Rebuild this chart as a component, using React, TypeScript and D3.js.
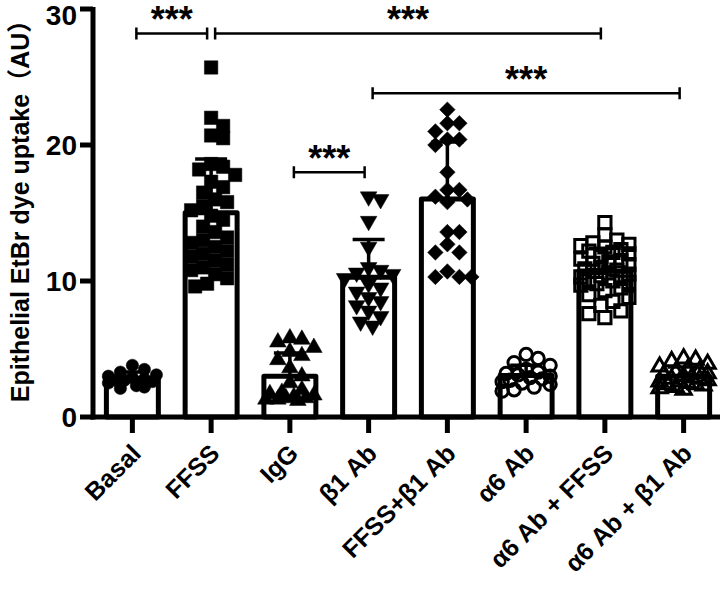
import React, { useRef, useEffect } from "react";
import * as d3 from "d3";

// groups along the x axis
const categories = [
  "Basal",
  "FFSS",
  "IgG",
  "β1 Ab",
  "FFSS+β1 Ab",
  "α6 Ab",
  "α6 Ab + FFSS",
  "α6 Ab + β1 Ab",
];

// marker used for each group (GraphPad style)
const markers = [
  "circle", "square", "triangle", "triangleDown",
  "diamond", "openCircle", "openSquare", "openTriangle",
];

const basal = [3.8, 3.5, 3.3, 3.1, 3.0, 2.9, 2.7, 2.6, 2.5, 2.3, 2.1, 2.2, 2.8, 2.7];
const ffss = [
  25.7, 22.0, 21.4, 20.7, 20.5, 18.6, 18.4, 18.2, 17.8, 17.3, 16.9, 16.5, 16.0, 15.8,
  15.5, 15.2, 14.8, 14.5, 14.0, 13.6, 13.2, 12.8, 12.5, 12.2, 11.8, 11.5, 11.2, 10.8,
  10.5, 10.2, 9.8, 9.6, 13.0, 12.0, 11.0,
];
const igg = [5.8, 5.7, 5.5, 5.1, 4.8, 4.5, 4.2, 3.6, 3.0, 2.5, 2.0, 1.7, 1.5, 1.4, 1.3, 1.2, 1.4, 1.6, 1.8, 1.3];
const b1Ab = [16.2, 16.0, 14.4, 12.5, 11.0, 10.8, 10.6, 10.5, 10.2, 9.8, 9.5, 9.2, 8.8, 8.5, 8.2, 7.8, 7.4, 7.0, 6.7];
const ffssB1 = [
  22.6, 21.6, 21.6, 21.0, 20.4, 20.4, 20.0, 18.0, 16.7, 16.7, 16.2, 16.0, 15.8,
  13.6, 13.6, 12.7, 12.1, 12.1, 10.7, 10.3, 10.3, 10.3,
];
const a6Ab = [4.6, 4.3, 4.0, 3.8, 3.5, 3.3, 3.1, 3.0, 2.8, 2.6, 2.4, 2.2, 2.0, 1.9, 2.5, 2.9, 3.2, 2.7];
const a6Ffss = [
  14.3, 13.4, 13.0, 12.8, 12.7, 12.6, 12.5, 12.3, 12.1, 12.0, 11.8, 11.6, 11.5, 11.3,
  11.2, 11.0, 10.9, 10.8, 10.7, 10.6, 10.5, 10.4, 10.3, 10.2, 10.0, 9.8, 9.7, 9.5,
  9.3, 9.0, 8.8, 8.5, 8.2, 7.8, 7.6, 7.3, 10.1, 11.4, 12.2, 9.9,
];
const a6B1 = [
  4.3, 4.2, 4.1, 3.9, 3.7, 3.5, 3.3, 3.1, 3.0, 2.9, 2.8, 2.6, 2.5, 2.4, 2.3, 2.2,
  2.1, 2.0, 2.4, 2.7, 3.2, 3.4, 2.6, 2.8,
];
const groupValues = [basal, ffss, igg, b1Ab, ffssB1, a6Ab, a6Ffss, a6B1];

// significance brackets: [from group, to group, height in AU]
const brackets = [
  ["Basal", "FFSS", 28.2],
  ["FFSS", "α6 Ab + FFSS", 28.2],
  ["β1 Ab", "α6 Ab + β1 Ab", 23.8],
  ["IgG", "β1 Ab", 18.0],
];
const yTicks = [0, 10, 20, 30];

const font = "'Liberation Sans', Arial, 'Noto Sans CJK SC', sans-serif";

const App = () => {
  const svgRef = useRef(null);

  useEffect(() => {
    const svg = d3.select(svgRef.current);
    svg.selectAll("*").remove();

    const x = d3.scaleBand().domain(categories).range([93, 723]).paddingInner(0.34).paddingOuter(0.17);
    const y = d3.scaleLinear().domain([0, 30]).range([417, 9]);
    const cx = (c) => x(c) + x.bandwidth() / 2;

    // y axis
    svg.append("line")
      .attr("x1", 93).attr("x2", 93).attr("y1", y(30) - 2).attr("y2", y(0) + 2.5)
      .attr("stroke", "black").attr("stroke-width", 5);
    const tickFs = 28;
    yTicks.forEach((t) => {
      svg.append("line")
        .attr("x1", 80).attr("x2", 93).attr("y1", y(t)).attr("y2", y(t))
        .attr("stroke", "black").attr("stroke-width", 5);
      // keep the top label inside the picture
      const base = Math.max(y(t) + 0.36 * tickFs, 0.91 * tickFs);
      svg.append("text")
        .attr("x", 77).attr("y", base)
        .attr("text-anchor", "end")
        .style("font", `bold ${tickFs}px ${font}`)
        .text(t);
    });
    svg.append("text")
      .attr("transform", `translate(29,${(y(0) + y(30)) / 2 - 8}) rotate(-90)`)
      .attr("text-anchor", "middle")
      .style("font", `bold 25px ${font}`)
      .text("Epithelial EtBr dye uptake（AU）");

    // bars + error bars
    categories.forEach((c, i) => {
      const vals = groupValues[i];
      const mean = d3.mean(vals);
      const sd = d3.deviation(vals);
      svg.append("rect")
        .attr("x", x(c)).attr("width", x.bandwidth())
        .attr("y", y(mean)).attr("height", y(0) - y(mean))
        .attr("fill", "white").attr("stroke", "black")
        .attr("stroke-width", 5).attr("stroke-linejoin", "round");
      svg.append("line")
        .attr("x1", cx(c)).attr("x2", cx(c)).attr("y1", y(mean)).attr("y2", y(mean + sd))
        .attr("stroke", "black").attr("stroke-width", 3.5);
      svg.append("line")
        .attr("x1", cx(c) - 16).attr("x2", cx(c) + 16).attr("y1", y(mean + sd)).attr("y2", y(mean + sd))
        .attr("stroke", "black").attr("stroke-width", 3.5);
    });

    // scatter points, spread sideways like a beeswarm
    const symbolFor = (m) => {
      if (m.includes("ircle")) return d3.symbol(d3.symbolCircle, 120)();
      if (m.includes("quare")) return d3.symbol(d3.symbolSquare, m === "square" ? 180 : 150)();
      if (m === "diamond") return d3.symbol(d3.symbolSquare, 120)();
      return d3.symbol(d3.symbolTriangle, m === "openTriangle" ? 100 : 120)();
    };
    categories.forEach((c, i) => {
      const m = markers[i];
      const open = m.startsWith("open");
      const placed = [];
      const sorted = groupValues[i].slice().sort((a, b) => b - a);
      sorted.forEach((v) => {
        const py = y(v);
        let best = 0, bestScore = -1;
        for (let k = 0; k <= 12; k++) {
          const off = k === 0 ? 0 : (k % 2 ? 1 : -1) * Math.ceil(k / 2) * 4;
          const dmin = placed.length
            ? d3.min(placed, (p) => Math.hypot(p[0] - off, p[1] - py))
            : Infinity;
          if (dmin >= 12) { best = off; bestScore = Infinity; break; }
          if (dmin > bestScore) { bestScore = dmin; best = off; }
        }
        placed.push([best, py]);
      });
      const g = svg.append("g");
      placed.forEach(([off, py]) => {
        let rot = 0;
        if (m === "triangleDown") rot = 180;
        if (m === "diamond") rot = 45;
        g.append("path")
          .attr("d", symbolFor(m))
          .attr("transform", `translate(${cx(c) + off},${py}) rotate(${rot})`)
          .attr("fill", open ? "none" : "black")
          .attr("stroke", "black")
          .attr("stroke-width", open ? 3 : 0.5);
      });
    });

    // x axis
    svg.append("line")
      .attr("x1", 90.5).attr("x2", 720).attr("y1", y(0)).attr("y2", y(0))
      .attr("stroke", "black").attr("stroke-width", 5);
    categories.forEach((c) => {
      svg.append("line")
        .attr("x1", cx(c)).attr("x2", cx(c)).attr("y1", y(0)).attr("y2", y(0) + 16)
        .attr("stroke", "black").attr("stroke-width", 5);
      svg.append("text")
        .attr("transform", `translate(${cx(c) + 10},${y(0) + 38}) rotate(-45)`)
        .attr("text-anchor", "end")
        .style("font", `bold 25px ${font}`)
        .text(c);
    });

    // significance brackets
    brackets.forEach(([a, b, h]) => {
      const x1 = cx(a) + 4, x2 = cx(b) - 4, by = y(h);
      svg.append("path")
        .attr("d", `M${x1},${by - 6}V${by + 6}M${x1},${by}H${x2}M${x2},${by - 6}V${by + 6}`)
        .attr("fill", "none").attr("stroke", "black").attr("stroke-width", 2.5);
      svg.append("text")
        .attr("x", (x1 + x2) / 2).attr("y", by - 1)
        .attr("text-anchor", "middle")
        .style("font", `bold 36px ${font}`)
        .text("***");
    });
  }, []);

  return (
    <svg ref={svgRef} width={720} height={594}
      style={{ position: "absolute", left: 0, top: 0, background: "white" }} />
  );
};

export default App;
